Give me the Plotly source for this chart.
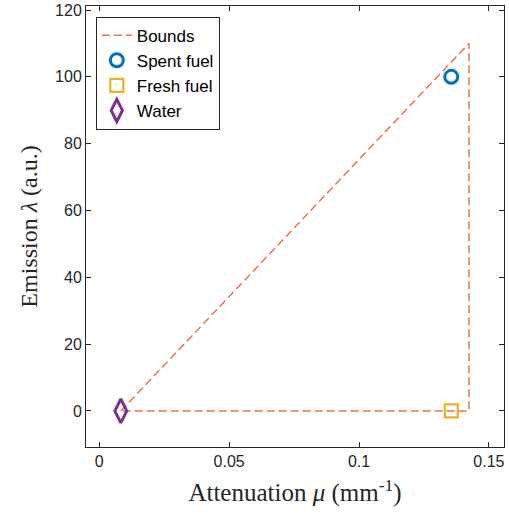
import plotly.graph_objects as go

bounds_x = [0.0083, 0.1423, 0.1423, 0.0083]
bounds_y = [0, 110, 0, 0]
spent_x = [0.1355]
spent_y = [100]
fresh_x = [0.1355]
fresh_y = [0]
water_x = [0.0083]
water_y = [0]
x_ticks = [0, 0.05, 0.1, 0.15]
x_tick_labels = ["0", "0.05", "0.1", "0.15"]
y_ticks = [0, 20, 40, 60, 80, 100, 120]

fig = go.Figure()
fig.add_trace(go.Scatter(x=bounds_x, y=bounds_y, mode="lines", name="Bounds",
                         line=dict(color="#E5774B", width=1.5, dash="8px,4px")))
fig.add_trace(go.Scatter(x=spent_x, y=spent_y, mode="markers", name="Spent fuel",
                         marker=dict(symbol="circle-open", size=13, color="#0072BD",
                                     line=dict(width=3, color="#0072BD"))))
fig.add_trace(go.Scatter(x=fresh_x, y=fresh_y, mode="markers", name="Fresh fuel",
                         marker=dict(symbol="square-open", size=13, color="#EDB120",
                                     line=dict(width=2.2, color="#EDB120"))))
fig.add_trace(go.Scatter(x=water_x, y=water_y, mode="markers", name="Water",
                         marker=dict(symbol="diamond-tall-open", size=17, color="#7E2F8E",
                                     line=dict(width=3, color="#7E2F8E"))))

axis_common = dict(showgrid=False, zeroline=False, showline=True, mirror="ticks",
                   linecolor="#262626", linewidth=1, ticks="inside", ticklen=5,
                   tickcolor="#262626", automargin=False,
                   tickfont=dict(family="Liberation Sans, Arial", size=16, color="#262626"))

fig.update_layout(
    width=509, height=516,
    margin=dict(l=86, r=5, t=6, b=69),
    plot_bgcolor="white", paper_bgcolor="white",
    xaxis=dict(range=[-0.0051, 0.1558], tickvals=x_ticks, ticktext=x_tick_labels,
               title=dict(text="Attenuation <i>μ</i> (mm<sup>-1</sup>)", standoff=14,
                          font=dict(family="Liberation Serif, DejaVu Serif", size=25, color="#262626")),
               **axis_common),
    yaxis=dict(range=[-10.8, 121.2], tickvals=y_ticks,
               title=dict(text="Emission <i>λ</i> (a.u.)", standoff=10,
                          font=dict(family="Liberation Serif, DejaVu Serif", size=24, color="#262626")),
               **axis_common),
    legend=dict(x=0.0235, y=0.976, xanchor="left", yanchor="top",
                bgcolor="white", bordercolor="#262626", borderwidth=1,
                font=dict(family="Liberation Sans, Arial", size=17, color="#000000"),
                tracegroupgap=0, itemwidth=30),
    showlegend=True,
)

fig.write_html("out.html", config={"displayModeBar": False},
               post_script="document.body.style.margin='0';document.body.style.overflow='hidden';")
